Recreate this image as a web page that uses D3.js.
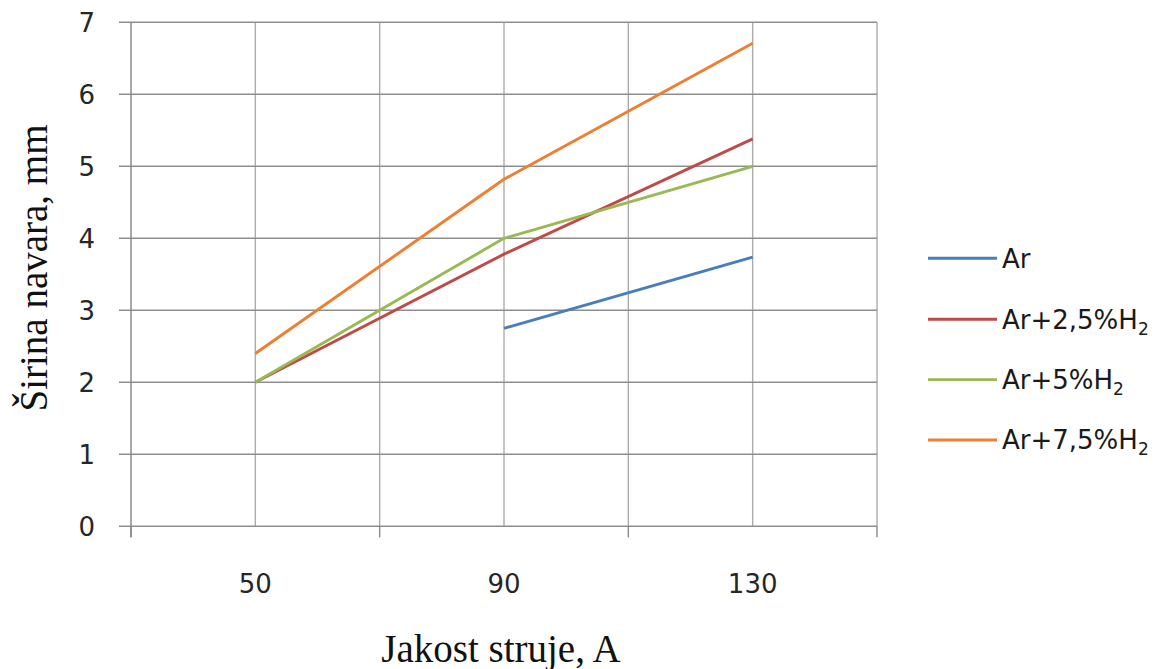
<!DOCTYPE html>
<html>
<head>
<meta charset="utf-8">
<script src="https://cdn.jsdelivr.net/npm/d3@7"></script>
<style>
  html, body { margin: 0; padding: 0; background: #fff; }
  svg { display: block; }
</style>
</head>
<body>
<svg id="chart" width="1163" height="669"></svg>
<script>
// ---- data ----
const categories = ["50", "90", "130"];
const yTicks = [0, 1, 2, 3, 4, 5, 6, 7];
const seriesNames = ["Ar", "Ar+2,5%H2", "Ar+5%H2", "Ar+7,5%H2"];
const arValues = [null, 2.75, 3.74];
const ar25Values = [2.0, 3.78, 5.38];
const ar5Values = [2.0, 4.0, 5.0];
const ar75Values = [2.4, 4.82, 6.71];
const seriesColors = ["#4A7EBB", "#BE4B48", "#98B954", "#EE7E32"];
const xTitle = "Jakost struje, A";
const yTitle = "Širina navara, mm";

const seriesValues = [arValues, ar25Values, ar5Values, ar75Values];

(function () {
const svg = d3.select("#chart");
const pLeft = 131, pRight = 877, pTop = 22.3, pBottom = 526.3;

const x = d3.scaleBand().domain(categories).range([pLeft, pRight]).paddingInner(0).paddingOuter(0);
const y = d3.scaleLinear().domain([0, 7]).range([pBottom, pTop]);
const cx = c => x(c) + x.bandwidth() / 2;

// vertical gridlines (category centres and boundaries)
const boundaries = categories.map(c => x(c)).slice(1).concat([pRight]);
svg.append("g").selectAll("line").data(categories).join("line")
  .attr("x1", d => cx(d)).attr("x2", d => cx(d))
  .attr("y1", pTop).attr("y2", pBottom)
  .attr("stroke", "#ababab").attr("stroke-width", 1.4);
svg.append("g").selectAll("line").data(boundaries).join("line")
  .attr("x1", d => d).attr("x2", d => d)
  .attr("y1", pTop).attr("y2", pBottom)
  .attr("stroke", "#ababab").attr("stroke-width", 1.4);

// horizontal gridlines with left ticks
svg.append("g").selectAll("line").data(yTicks).join("line")
  .attr("x1", pLeft - 12).attr("x2", pRight)
  .attr("y1", d => y(d)).attr("y2", d => y(d))
  .attr("stroke", "#8e8e8e").attr("stroke-width", 1.4);

// y axis line
svg.append("line").attr("x1", pLeft).attr("x2", pLeft).attr("y1", pTop).attr("y2", pBottom + 11)
  .attr("stroke", "#8a8a8a").attr("stroke-width", 1.5);

// x tick marks at category boundaries
const xTickPos = [pLeft].concat(boundaries);
svg.append("g").selectAll("line").data(xTickPos).join("line")
  .attr("x1", d => d).attr("x2", d => d)
  .attr("y1", pBottom).attr("y2", pBottom + 11)
  .attr("stroke", "#8a8a8a").attr("stroke-width", 1.4);

// y tick labels
svg.append("g").selectAll("text").data(yTicks).join("text")
  .attr("x", 95).attr("y", d => y(d))
  .attr("dy", "0.36em")
  .attr("text-anchor", "end")
  .attr("font-family", "DejaVu Sans, sans-serif")
  .attr("font-size", 26).attr("fill", "#262626")
  .text(d => d);

// x tick labels
svg.append("g").selectAll("text").data(categories).join("text")
  .attr("x", d => cx(d)).attr("y", 593)
  .attr("text-anchor", "middle")
  .attr("font-family", "DejaVu Sans, sans-serif")
  .attr("font-size", 26).attr("fill", "#262626")
  .text(d => d);

// axis titles
svg.append("text")
  .attr("x", 501).attr("y", 662)
  .attr("text-anchor", "middle")
  .attr("font-family", "Liberation Serif, Times New Roman, serif")
  .attr("font-size", 39).attr("fill", "#111")
  .text(xTitle);
svg.append("text")
  .attr("transform", "translate(47,268) rotate(-90)")
  .attr("text-anchor", "middle")
  .attr("font-family", "Liberation Serif, Times New Roman, serif")
  .attr("font-size", 39).attr("fill", "#111")
  .text(yTitle);

// lines
const line = d3.line()
  .defined(d => d.v !== null)
  .x(d => cx(d.c)).y(d => y(d.v));
seriesValues.forEach((vals, i) => {
  const pts = categories.map((c, j) => ({ c, v: vals[j] }));
  svg.append("path").datum(pts)
    .attr("d", line)
    .attr("fill", "none")
    .attr("stroke", seriesColors[i])
    .attr("stroke-width", 2.9)
    .attr("stroke-linejoin", "round");
});

// legend
const legY = [258.3, 319.3, 379.6, 440];
const leg = svg.append("g");
seriesNames.forEach((name, i) => {
  const g = leg.append("g");
  g.append("line")
    .attr("x1", 928).attr("x2", 997)
    .attr("y1", legY[i]).attr("y2", legY[i])
    .attr("stroke", seriesColors[i]).attr("stroke-width", 2.9);
  const t = g.append("text")
    .attr("x", 1002).attr("y", legY[i])
    .attr("dy", "0.36em")
    .attr("font-family", "DejaVu Sans, sans-serif")
    .attr("font-size", 26).attr("fill", "#1a1a1a");
  const m = name.match(/^(.*H)2$/);
  if (m) {
    t.append("tspan").text(m[1]);
    t.append("tspan").attr("font-size", 17).attr("dy", 6).text("2");
  } else {
    t.text(name);
  }
});
})();
</script>
</body>
</html>
